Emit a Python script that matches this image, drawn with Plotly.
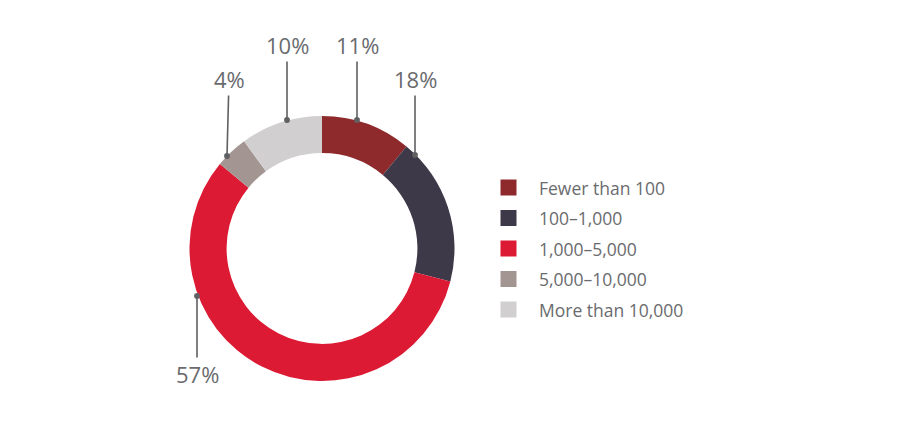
import plotly.graph_objects as go

categories = ["Fewer than 100", "100–1,000", "1,000–5,000", "5,000–10,000", "More than 10,000"]
values = [11, 18, 57, 4, 10]
colors = ["#8e2a2b", "#3e3949", "#dc1a33", "#a39591", "#d1cfd0"]

W, H = 900, 426
cx, cy, R = 322, 248.5, 132.5

# label placement (pixels): dot on ring edge, text position
label_dots = [(357, 120), (415, 155), (197, 296), (227, 156), (287, 120)]
label_text = [(357, 45), (415, 79), (197, 374), (229, 79), (287, 45)]

FONT = "Open Sans"
GRAY = "#6a6b6e"

fig = go.Figure()
fig.add_trace(go.Pie(
    labels=categories, values=values, sort=False, direction="clockwise",
    rotation=0, hole=0.72, marker=dict(colors=colors, line=dict(width=0)),
    textinfo="none", hoverinfo="label+percent", showlegend=False,
    domain=dict(x=[(cx - R) / W, (cx + R) / W], y=[(H - cy - R) / H, (H - cy + R) / H]),
))

annotations = []
for v, (dx, dy), (tx, ty) in zip(values, label_dots, label_text):
    annotations.append(dict(
        x=dx / W, y=1 - dy / H, xref="paper", yref="paper",
        ax=tx - dx, ay=ty - dy, axref="pixel", ayref="pixel",
        text=f"{v}%", showarrow=True, arrowhead=6, arrowsize=0.9, arrowwidth=1.6,
        arrowcolor="#5f6062", standoff=0,
        font=dict(family=FONT, size=22, color=GRAY),
    ))

shapes = []
lx, ly0, step, sq = 508.5, 187.5, 30.5, 16
for i, (c, col) in enumerate(zip(categories, colors)):
    yc = ly0 + i * step
    shapes.append(dict(type="rect", xref="paper", yref="paper",
                       x0=(lx - sq / 2) / W, x1=(lx + sq / 2) / W,
                       y0=1 - (yc + sq / 2) / H, y1=1 - (yc - sq / 2) / H,
                       fillcolor=col, line=dict(width=0)))
    annotations.append(dict(x=537 / W, y=1 - yc / H, xref="paper", yref="paper",
                            xanchor="left", yanchor="middle", showarrow=False, text=c,
                            font=dict(family=FONT, size=17.5, color=GRAY)))

fig.update_layout(
    width=W, height=H, margin=dict(l=0, r=0, t=0, b=0),
    paper_bgcolor="white", plot_bgcolor="white",
    annotations=annotations, shapes=shapes, showlegend=False,
)
fig.write_html("out.html", config={"displayModeBar": False},
               post_script="document.body.style.margin='0';")
